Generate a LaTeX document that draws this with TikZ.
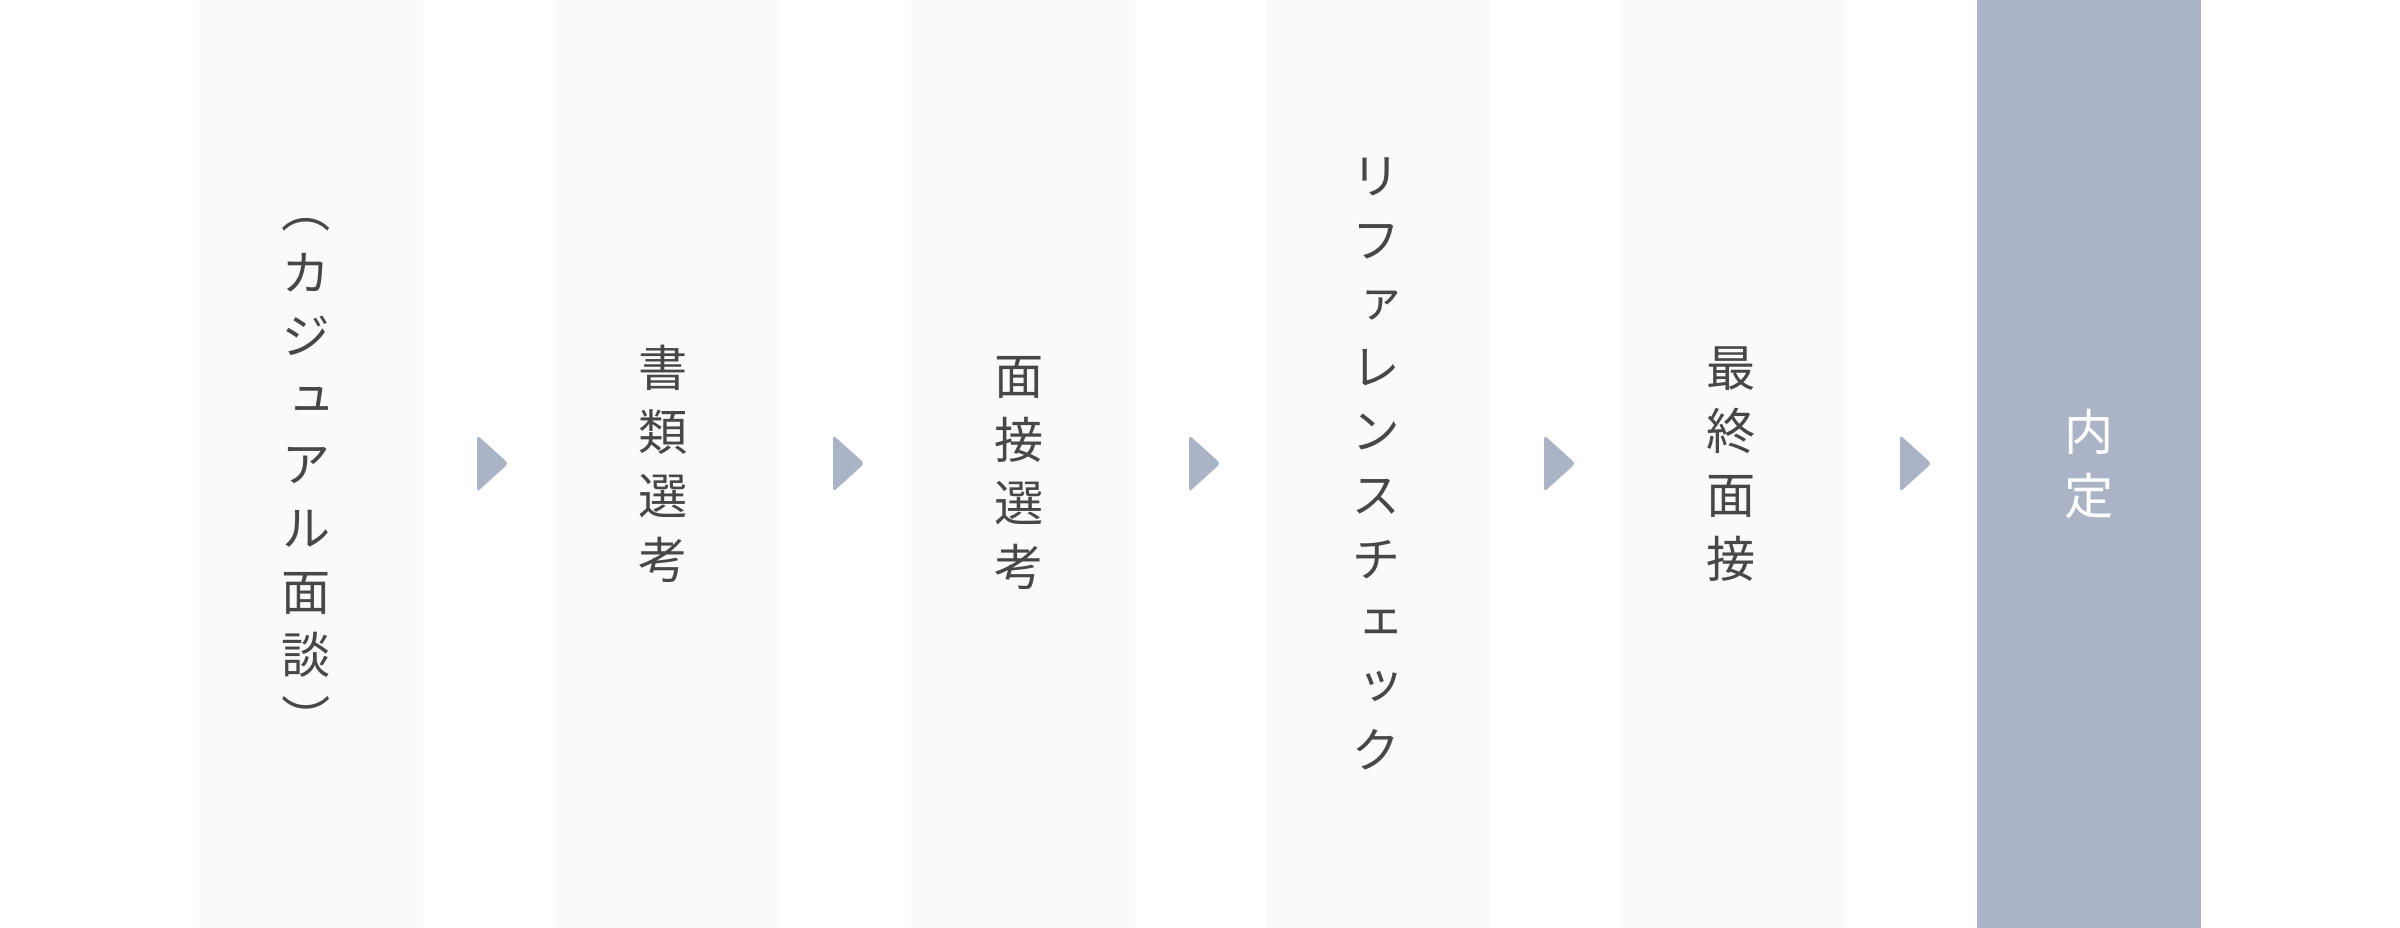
\documentclass[tikz,border=0pt]{standalone}
\usepackage{fontspec}
\newfontfamily\jpfont[RawFeature={+vert}]{Noto Sans CJK JP}
\definecolor{stepbg}{HTML}{FAFAFA}
\definecolor{accent}{HTML}{ABB3C7}
\definecolor{ink}{HTML}{474747}
\begin{document}
\begin{tikzpicture}[outer sep=0pt,inner sep=0pt,
    stepcol/.style={rectangle, fill=stepbg, minimum width=2.24cm, minimum height=9.28cm},
    steptxt/.style={text=ink, align=center, font=\jpfont\fontsize{14}{18.15}\selectfont},
    pointer/.style={fill=accent, rounded corners=1pt}]
    \useasboundingbox (0,0) rectangle (24,9.28);
    % columns
    \node[stepcol] (s1) at (3.11,4.64) {};
    \node[stepcol] (s2) at (6.67,4.64) {};
    \node[stepcol] (s3) at (10.23,4.64) {};
    \node[stepcol] (s4) at (13.78,4.64) {};
    \node[stepcol] (s5) at (17.33,4.64) {};
    \node[stepcol, fill=accent] (s6) at (20.89,4.64) {};
    % labels
    \node[steptxt] (t1) at (3.06,4.50) {（\\カ\\ジ\\ュ\\ア\\ル\\面\\談\\）};
    \node[steptxt] (t2) at (6.63,4.64) {書\\類\\選\\考};
    \node[steptxt] (t3) at (10.19,4.55) {面\\接\\選\\考};
    \node[steptxt] (t4) at (13.76,4.64) {リ\\フ\\ァ\\レ\\ン\\ス\\チ\\ェ\\ッ\\ク};
    \node[steptxt] (t5) at (17.31,4.64) {最\\終\\面\\接};
    \node[steptxt, text=white] (t6) at (20.89,4.64) {内\\定};
    % pointers
    \foreach \x in {4.77,8.33,11.89,15.44,19.00}
      \fill[pointer] (\x,4.93) -- (\x+0.315,4.645) -- (\x,4.36) -- cycle;
\end{tikzpicture}
\end{document}
